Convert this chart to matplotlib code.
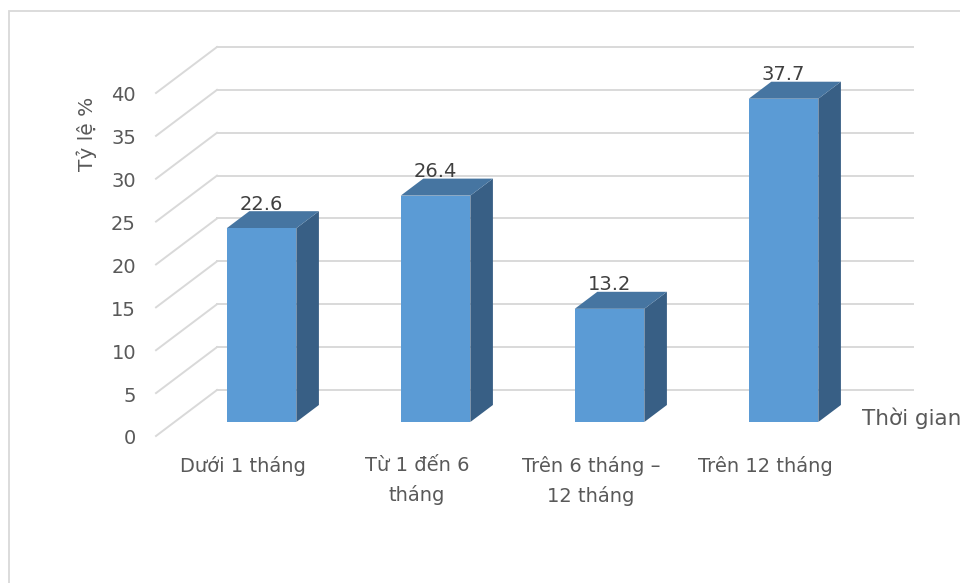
import matplotlib.pyplot as plt
from matplotlib.patches import Polygon, Rectangle

categories = ["Dưới 1 tháng", "Từ 1 đến 6\ntháng", "Trên 6 tháng –\n12 tháng", "Trên 12 tháng"]
values = [22.6, 26.4, 13.2, 37.7]
value_labels = ["22.6", "26.4", "13.2", "37.7"]
yticks = [0, 5, 10, 15, 20, 25, 30, 35, 40]

W, H = 960, 583
DEPTH_X = -61 / 174      # floor depth, in category units
DEPTH_Y = -46 / 8.58     # floor depth, in value units
BAR_D_FRONT = 0.696      # bar front face depth (0 = back wall, 1 = front)
BAR_D_BACK = 0.326
BAR_W = 0.4

FRONT = "#5B9BD5"
TOP = "#4675A1"
SIDE = "#385F85"
GRID = "#D9D9D9"
TXT = "#595959"


def proj(x, v, d):
    return (x + DEPTH_X * d, v + DEPTH_Y * d)


def px(p):
    return p * 72 / 100


fig = plt.figure(figsize=(W / 100, H / 100), dpi=100)
fig.patches.append(Rectangle((9 / W, -0.1), 1.2, 1 - 11 / H + 0.1, transform=fig.transFigure,
                             fill=False, edgecolor=GRID, linewidth=1.3))

ax = fig.add_axes([217 / W, (H - 390) / H, (913 - 217) / W, (390 - 47) / H])
ax.set_xlim(0, 4)
ax.set_ylim(0, 40)
ax.axis("off")

# back wall + side gridlines
for t in yticks:
    ax.plot([0, 4], [t, t], color=GRID, lw=1.4, clip_on=False, zorder=1)
    ax.plot([0, DEPTH_X], [t, t + DEPTH_Y], color=GRID, lw=1.4, clip_on=False, zorder=1)
    ax.annotate(str(t), xy=proj(0, t, 1), xytext=(px(-20), px(-3)), textcoords="offset points",
                ha="right", va="center", fontsize=14, color=TXT, annotation_clip=False)

# bars
for i, v in enumerate(values):
    c = i + 0.5
    l, r = c - BAR_W / 2, c + BAR_W / 2
    fl0, fr0 = proj(l, 0, BAR_D_FRONT), proj(r, 0, BAR_D_FRONT)
    fl1, fr1 = proj(l, v, BAR_D_FRONT), proj(r, v, BAR_D_FRONT)
    bl1, br1 = proj(l, v, BAR_D_BACK), proj(r, v, BAR_D_BACK)
    br0 = proj(r, 0, BAR_D_BACK)
    ax.add_patch(Polygon([fr0, fr1, br1, br0], closed=True, facecolor=SIDE, edgecolor="none",
                         clip_on=False, zorder=3))
    ax.add_patch(Polygon([fl1, fr1, br1, bl1], closed=True, facecolor=TOP, edgecolor="none",
                         clip_on=False, zorder=3))
    ax.add_patch(Polygon([fl0, fr0, fr1, fl1], closed=True, facecolor=FRONT, edgecolor="none",
                         clip_on=False, zorder=4))
    ax.annotate(value_labels[i], xy=proj(c, v, BAR_D_FRONT), xytext=(0, px(24)),
                textcoords="offset points", ha="center", va="center", fontsize=14,
                color="#404040", annotation_clip=False, zorder=5)
    ax.annotate(categories[i], xy=proj(c, 0, 1), xytext=(0, px(-20)), textcoords="offset points",
                ha="center", va="top", fontsize=14, color=TXT, linespacing=1.6,
                annotation_clip=False)

ax.annotate("Thời gian", xy=proj(4, 0, 1), xytext=(px(10), px(18)), textcoords="offset points",
            ha="left", va="center", fontsize=15.5, color=TXT, annotation_clip=False)

fig.text(87 / W, 1 - 134 / H, "Tỷ lệ %", rotation=90, ha="center", va="center",
         fontsize=14.5, color=TXT)

fig.savefig("out.png", dpi=100)
